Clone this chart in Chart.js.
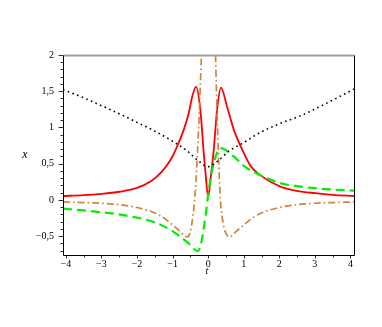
<!DOCTYPE html>
<html>
<head>
<meta charset="utf-8">
<script src="https://cdn.jsdelivr.net/npm/chart.js@4.4.0/dist/chart.umd.min.js"></script>
<style>
  html, body { margin: 0; padding: 0; background: #fff; }
  #wrap { width: 382px; height: 327px; }
</style>
</head>
<body>
<div id="wrap"><canvas id="plot" width="382" height="327"></canvas></div>
<script>
/* ============================
   DATA
============================ */

// tick values
const xTicks = [-4, -3, -2, -1, 0, 1, 2, 3, 4];
const xMinor = [-3.5, -2.5, -1.5, -0.5, 0.5, 1.5, 2.5, 3.5];
const yTicks = [-0.5, 0, 0.5, 1, 1.5, 2];
const yMinor = [-0.7, -0.6, -0.4, -0.3, -0.2, -0.1, 0.1, 0.2, 0.3, 0.4,
  0.6, 0.7, 0.8, 0.9, 1.1, 1.2, 1.3, 1.4, 1.6, 1.7, 1.8, 1.9];

// red solid curve
const redT = [-4.08, -3.5, -3, -2.5, -2, -1.6, -1.3, -1.06, -0.87, -0.685, -0.545,
  -0.45, -0.34, -0.22, -0.12, -0.07, 0, 0.07, 0.157, 0.25, 0.36, 0.53, 0.72,
  1.0, 1.19, 1.45, 2.03, 2.5, 3.01, 3.5, 4.1];
const redX = [0.054, 0.066, 0.084, 0.113, 0.165, 0.26, 0.39, 0.55, 0.74, 0.97, 1.2,
  1.42, 1.56, 1.25, 0.62, 0.35, 0.04, 0.3, 0.69, 1.24, 1.55, 1.29, 0.97,
  0.65, 0.47, 0.346, 0.184, 0.125, 0.093, 0.07, 0.053];

// green dashed curve
const greenT = [-4.08, -3.5, -3, -2.5, -2, -1.5, -1, -0.75, -0.5, -0.31,
  -0.22, -0.076, 0.017, 0.157, 0.345, 0.72, 1.0, 1.45, 2, 2.5, 3, 3.5, 4.1];
const greenX = [-0.12, -0.145, -0.17, -0.2, -0.245, -0.31, -0.43, -0.52, -0.62, -0.705,
  -0.646, -0.231, 0.138, 0.508, 0.715, 0.6, 0.47, 0.346, 0.235, 0.19, 0.162, 0.143, 0.128];

// orange dash-dot curve (runs off the top near t = 0)
const orangeT = [-4.08, -3.5, -3, -2.5, -2, -1.45, -1.2, -1, -0.8, -0.685, -0.59,
  -0.5, -0.45, -0.4, -0.35, -0.3, -0.25, -0.2, -0.15, 0, 0.17, 0.21, 0.25, 0.3, 0.345,
  0.4, 0.44, 0.5, 0.6, 0.8, 1, 1.2, 1.45, 2, 2.5, 3, 3.5, 4.1];
const orangeX = [-0.028, -0.036, -0.047, -0.065, -0.105, -0.19, -0.265, -0.345, -0.43, -0.484, -0.51,
  -0.44, -0.3, -0.1, 0.2, 0.65, 1.2, 1.85, 2.6, null, 2.6, 1.95, 1.2, 0.5, 0,
  -0.25, -0.37, -0.46, -0.51, -0.43, -0.345, -0.265, -0.19, -0.105, -0.065, -0.046, -0.036, -0.028];

// black dotted curve
const blackT = [-4.08, -3.5, -3, -2.5, -2, -1.5, -1, -0.6, -0.3, 0,
  0.3, 0.6, 1, 1.42, 2, 2.59, 3.31, 4.1];
const blackX = [1.52, 1.41, 1.3, 1.19, 1.07, 0.95, 0.81, 0.68, 0.55, 0.46,
  0.55, 0.68, 0.79, 0.92, 1.05, 1.16, 1.33, 1.53];

/* ============================
   HELPERS
============================ */

function toPoints(ts, xs) {
  return ts.map((t, i) => ({ x: t, y: xs[i] }));
}

function fmt(v) {
  let s = String(v).replace(".", ",");
  if (v < 0) s = "\u2212" + s.slice(1);
  return s;
}

// frame, tick marks and axis titles
const framePlugin = {
  id: "frame",
  afterDatasetsDraw(chart) {
    const { ctx, chartArea: a, scales } = chart;
    const L = Math.floor(a.left) + 0.5;
    const B = Math.floor(a.bottom) + 0.5;
    const R = Math.floor(a.right) + 0.5;
    const T = Math.floor(a.top) + 0.5;
    ctx.save();

    // top border (gray)
    ctx.strokeStyle = "#a0a0a0";
    ctx.lineWidth = 2;
    ctx.beginPath();
    ctx.moveTo(L, T);
    ctx.lineTo(R, T);
    ctx.stroke();

    // left, bottom, right
    ctx.strokeStyle = "#000";
    ctx.lineWidth = 1;
    ctx.beginPath();
    ctx.moveTo(L, T);
    ctx.lineTo(L, B);
    ctx.lineTo(R, B);
    ctx.lineTo(R, T);
    ctx.stroke();

    // y ticks
    ctx.strokeStyle = "#333";
    ctx.beginPath();
    yTicks.forEach((v) => {
      const y = Math.round(scales.y.getPixelForValue(v)) + 0.5;
      ctx.moveTo(L - 5, y);
      ctx.lineTo(L, y);
    });
    yMinor.forEach((v) => {
      const y = Math.round(scales.y.getPixelForValue(v)) + 0.5;
      ctx.moveTo(L - 3, y);
      ctx.lineTo(L, y);
    });
    // x ticks
    xTicks.forEach((v) => {
      const x = Math.round(scales.x.getPixelForValue(v)) + 0.5;
      ctx.moveTo(x, B);
      ctx.lineTo(x, B + 3);
    });
    xMinor.forEach((v) => {
      const x = Math.round(scales.x.getPixelForValue(v)) + 0.5;
      ctx.moveTo(x, B);
      ctx.lineTo(x, B + 2);
    });
    ctx.stroke();

    // axis titles
    ctx.fillStyle = "#000";
    ctx.textAlign = "center";
    ctx.textBaseline = "middle";
    ctx.font = "italic 12px 'Liberation Serif', serif";
    ctx.fillText("x", 25, 155);
    ctx.font = "italic 10px 'Liberation Serif', serif";
    ctx.fillText("t", 207, 271);
    ctx.restore();
  },
};

/* ============================
   CHART
============================ */

Chart.defaults.font.family = "'Liberation Serif', serif";
Chart.defaults.font.size = 10;
Chart.defaults.color = "#000";

new Chart(document.getElementById("plot"), {
  type: "line",
  data: {
    datasets: [
      {
        label: "dotted",
        data: toPoints(blackT, blackX),
        borderColor: "#000",
        borderWidth: 1.6,
        borderDash: [1.6, 3.4],
      },
      {
        label: "dashdot",
        data: toPoints(orangeT, orangeX),
        borderColor: "#cd853f",
        borderWidth: 1.7,
        borderDash: [7, 3, 1.6, 3],
      },
      {
        label: "dashed",
        data: toPoints(greenT, greenX),
        borderColor: "#00ee00",
        borderWidth: 2.2,
        borderDash: [9, 5],
      },
      {
        label: "solid",
        data: toPoints(redT, redX),
        borderColor: "#ff0000",
        borderWidth: 1.8,
      },
    ],
  },
  options: {
    responsive: false,
    animation: false,
    events: [],
    layout: { padding: { top: 55, right: 28, left: 0, bottom: 0 } },
    elements: {
      point: { radius: 0 },
      line: { cubicInterpolationMode: "monotone", fill: false },
    },
    plugins: { legend: { display: false }, tooltip: { enabled: false } },
    scales: {
      x: {
        type: "linear",
        min: -4.08,
        max: 4.1,
        grid: { display: false, drawTicks: false },
        border: { display: false },
        afterBuildTicks: (s) => { s.ticks = xTicks.map((v) => ({ value: v })); },
        afterFit: (s) => { s.height = 72; },
        ticks: { padding: 3, maxRotation: 0, autoSkip: false, callback: (v) => fmt(v) },
      },
      y: {
        type: "linear",
        min: -0.76,
        max: 2,
        grid: { display: false, drawTicks: false },
        border: { display: false },
        afterBuildTicks: (s) => { s.ticks = yTicks.map((v) => ({ value: v })); },
        afterFit: (s) => { s.width = 63; },
        ticks: { padding: 9, autoSkip: false, callback: (v) => fmt(v) },
      },
    },
  },
  plugins: [framePlugin],
});
</script>
</body>
</html>
